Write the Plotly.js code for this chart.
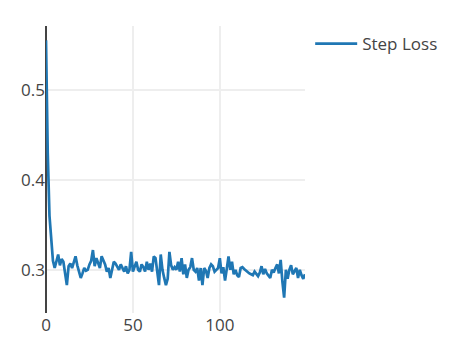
<!DOCTYPE html>
<html>
<head>
<meta charset="utf-8">
<script src="https://cdn.plot.ly/plotly-3.0.1.min.js"></script>
<style>html,body{margin:0;padding:0;background:#fff;}#chart{width:455px;height:356px;}</style>
</head>
<body>
<div id="chart"></div>
<script>
var seriesName = "Step Loss";
var stepLoss = [
  0.555, 0.43, 0.36, 0.33, 0.31, 0.302, 0.311, 0.317, 0.305, 0.312,
  0.309, 0.297, 0.283, 0.304, 0.307, 0.302, 0.31, 0.315, 0.305, 0.298,
  0.291, 0.296, 0.302, 0.299, 0.300, 0.306, 0.31, 0.322, 0.304, 0.313,
  0.307, 0.302, 0.315, 0.31, 0.306, 0.298, 0.302, 0.291, 0.302, 0.309,
  0.307, 0.304, 0.300, 0.306, 0.302, 0.298, 0.304, 0.296, 0.30, 0.32,
  0.298, 0.305, 0.309, 0.30, 0.298, 0.306, 0.303, 0.298, 0.309, 0.300,
  0.307, 0.298, 0.315, 0.313, 0.295, 0.283, 0.317, 0.30, 0.291, 0.283,
  0.29, 0.32, 0.305, 0.30, 0.303, 0.30, 0.309, 0.298, 0.313, 0.295,
  0.306, 0.291, 0.30, 0.303, 0.313, 0.30, 0.298, 0.302, 0.288, 0.302,
  0.283, 0.302, 0.299, 0.291, 0.302, 0.306, 0.304, 0.298, 0.30, 0.302,
  0.313, 0.296, 0.303, 0.288, 0.301, 0.315, 0.30, 0.309, 0.295, 0.30,
  0.294, 0.292, 0.302, 0.303, 0.301, 0.299, 0.297, 0.296, 0.295, 0.294,
  0.298, 0.296, 0.293, 0.297, 0.304, 0.295, 0.301, 0.296, 0.294, 0.291,
  0.30, 0.297, 0.302, 0.306, 0.296, 0.311, 0.287, 0.269, 0.30, 0.29,
  0.30, 0.305, 0.295, 0.298, 0.302, 0.291, 0.30, 0.294, 0.29, 0.295
];
var steps = stepLoss.map(function (v, i) { return i; });
var xTickVals = [0, 50, 100];
var yTickVals = [0.3, 0.4, 0.5];
var yTickText = ["0.3", "0.4", "0.5"];

var trace = {
  x: steps,
  y: stepLoss,
  type: "scatter",
  mode: "lines",
  name: seriesName,
  line: { color: "#1f77b4", width: 2.7 },
  showlegend: true
};

var layout = {
  width: 455,
  height: 356,
  margin: { l: 46, r: 150, t: 26, b: 43, pad: 0 },
  paper_bgcolor: "#fff",
  plot_bgcolor: "#fff",
  font: { family: "Open Sans, Liberation Sans, sans-serif", size: 17, color: "#444" },
  showlegend: true,
  legend: { x: 1.02, y: 1, xanchor: "left", yanchor: "top", itemwidth: 42, font: { size: 17 } },
  xaxis: {
    range: [0, 149],
    tickvals: xTickVals,
    showgrid: true,
    gridcolor: "#eee",
    gridwidth: 1.4,
    zeroline: true,
    zerolinecolor: "#444",
    zerolinewidth: 1.4,
    showline: false,
    ticks: ""
  },
  yaxis: {
    range: [0.252, 0.571],
    tickvals: yTickVals,
    ticktext: yTickText,
    showgrid: true,
    gridcolor: "#eee",
    gridwidth: 1.4,
    zeroline: false,
    showline: false,
    ticks: ""
  }
};

Plotly.newPlot("chart", [trace], layout, { displayModeBar: false, staticPlot: true });
</script>
</body>
</html>
